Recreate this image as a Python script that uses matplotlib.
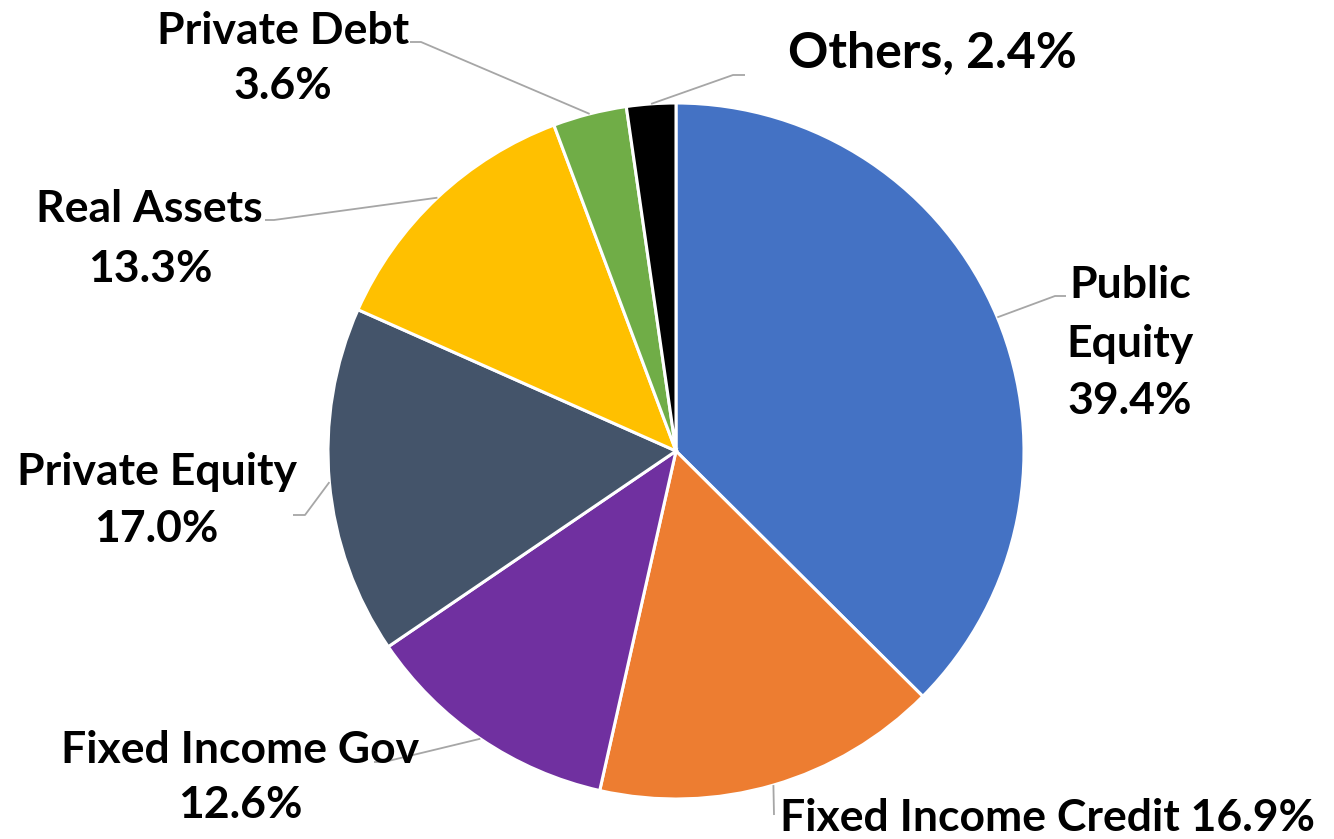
import matplotlib
matplotlib.use("Agg")
import matplotlib.pyplot as plt
import numpy as np

# Portfolio allocation (%)
categories = ["Public Equity", "Fixed Income Credit", "Fixed Income Gov",
              "Private Equity", "Real Assets", "Private Debt", "Others"]
values = [39.4, 16.9, 12.6, 17.0, 13.3, 3.6, 2.4]
colors = ["#4472C4", "#ED7D31", "#7030A0", "#44546A", "#FFC000", "#70AD47", "#000000"]

W, H = 1334, 839
fig = plt.figure(figsize=(W / 100, H / 100), dpi=100)
ax = fig.add_axes([0, 0, 1, 1])
ax.set_xlim(0, W)
ax.set_ylim(0, H)
ax.set_aspect("equal")
ax.axis("off")

cx, cy, R = 676, H - 451, 348
wedges, _ = ax.pie(values, colors=colors, startangle=90, counterclock=False,
                   center=(cx, cy), radius=R,
                   wedgeprops=dict(edgecolor="white", linewidth=2.2))
ax.set_xlim(0, W)
ax.set_ylim(0, H)

FONT = dict(family="Lato", fontweight="bold", color="black")
LEADER = dict(color="#A6A6A6", linewidth=1.3, solid_capstyle="butt")


def pct(v):
    return f"{v:.1f}%"


# label lines: (kind, x centre, baseline y from top), leader path points (from top), font size
layout = {
    "Public Equity": dict(lines=[("Public", 1130, 298), ("Equity", 1130, 357), ("PCT", 1130, 414)],
                          path=[(1055, 296), (1066, 296)], size=32),
    "Fixed Income Credit": dict(lines=[("FULL", 1047, 831)],
                                path=[(774, 815)], size=32),
    "Fixed Income Gov": dict(lines=[("NAME", 240, 763), ("PCT", 240, 818)],
                             path=[(384, 762), (374, 762)], size=32),
    "Private Equity": dict(lines=[("NAME", 157, 485), ("PCT", 156, 542)],
                           path=[(305, 515), (293, 515)], size=32),
    "Real Assets": dict(lines=[("NAME", 149, 222), ("PCT", 150, 282)],
                        path=[(274, 220), (265, 220)], size=32),
    "Private Debt": dict(lines=[("NAME", 283, 44), ("PCT", 283, 99)],
                         path=[(421, 42), (410, 42)], size=32),
    "Others": dict(lines=[("OTH", 932, 68)],
                   path=[(733, 75), (745, 75)], size=36),
}

for w, name, v in zip(wedges, categories, values):
    spec = layout[name]
    for kind, x, y in spec["lines"]:
        if kind == "NAME":
            s = name
        elif kind == "PCT":
            s = pct(v)
        elif kind == "FULL":
            s = f"{name} {pct(v)}"
        elif kind == "OTH":
            s = f"{name}, {pct(v)}"
        else:
            s = kind
        ax.text(x, H - y, s, ha="center", va="baseline", fontsize=spec["size"], **FONT)
    mid = np.deg2rad((w.theta1 + w.theta2) / 2)
    ax_pt = (cx + R * np.cos(mid), cy + R * np.sin(mid))
    xs = [ax_pt[0]] + [p[0] for p in spec["path"]]
    ys = [ax_pt[1]] + [H - p[1] for p in spec["path"]]
    ax.plot(xs, ys, **LEADER)

fig.savefig("out.png", dpi=100, facecolor="white")
